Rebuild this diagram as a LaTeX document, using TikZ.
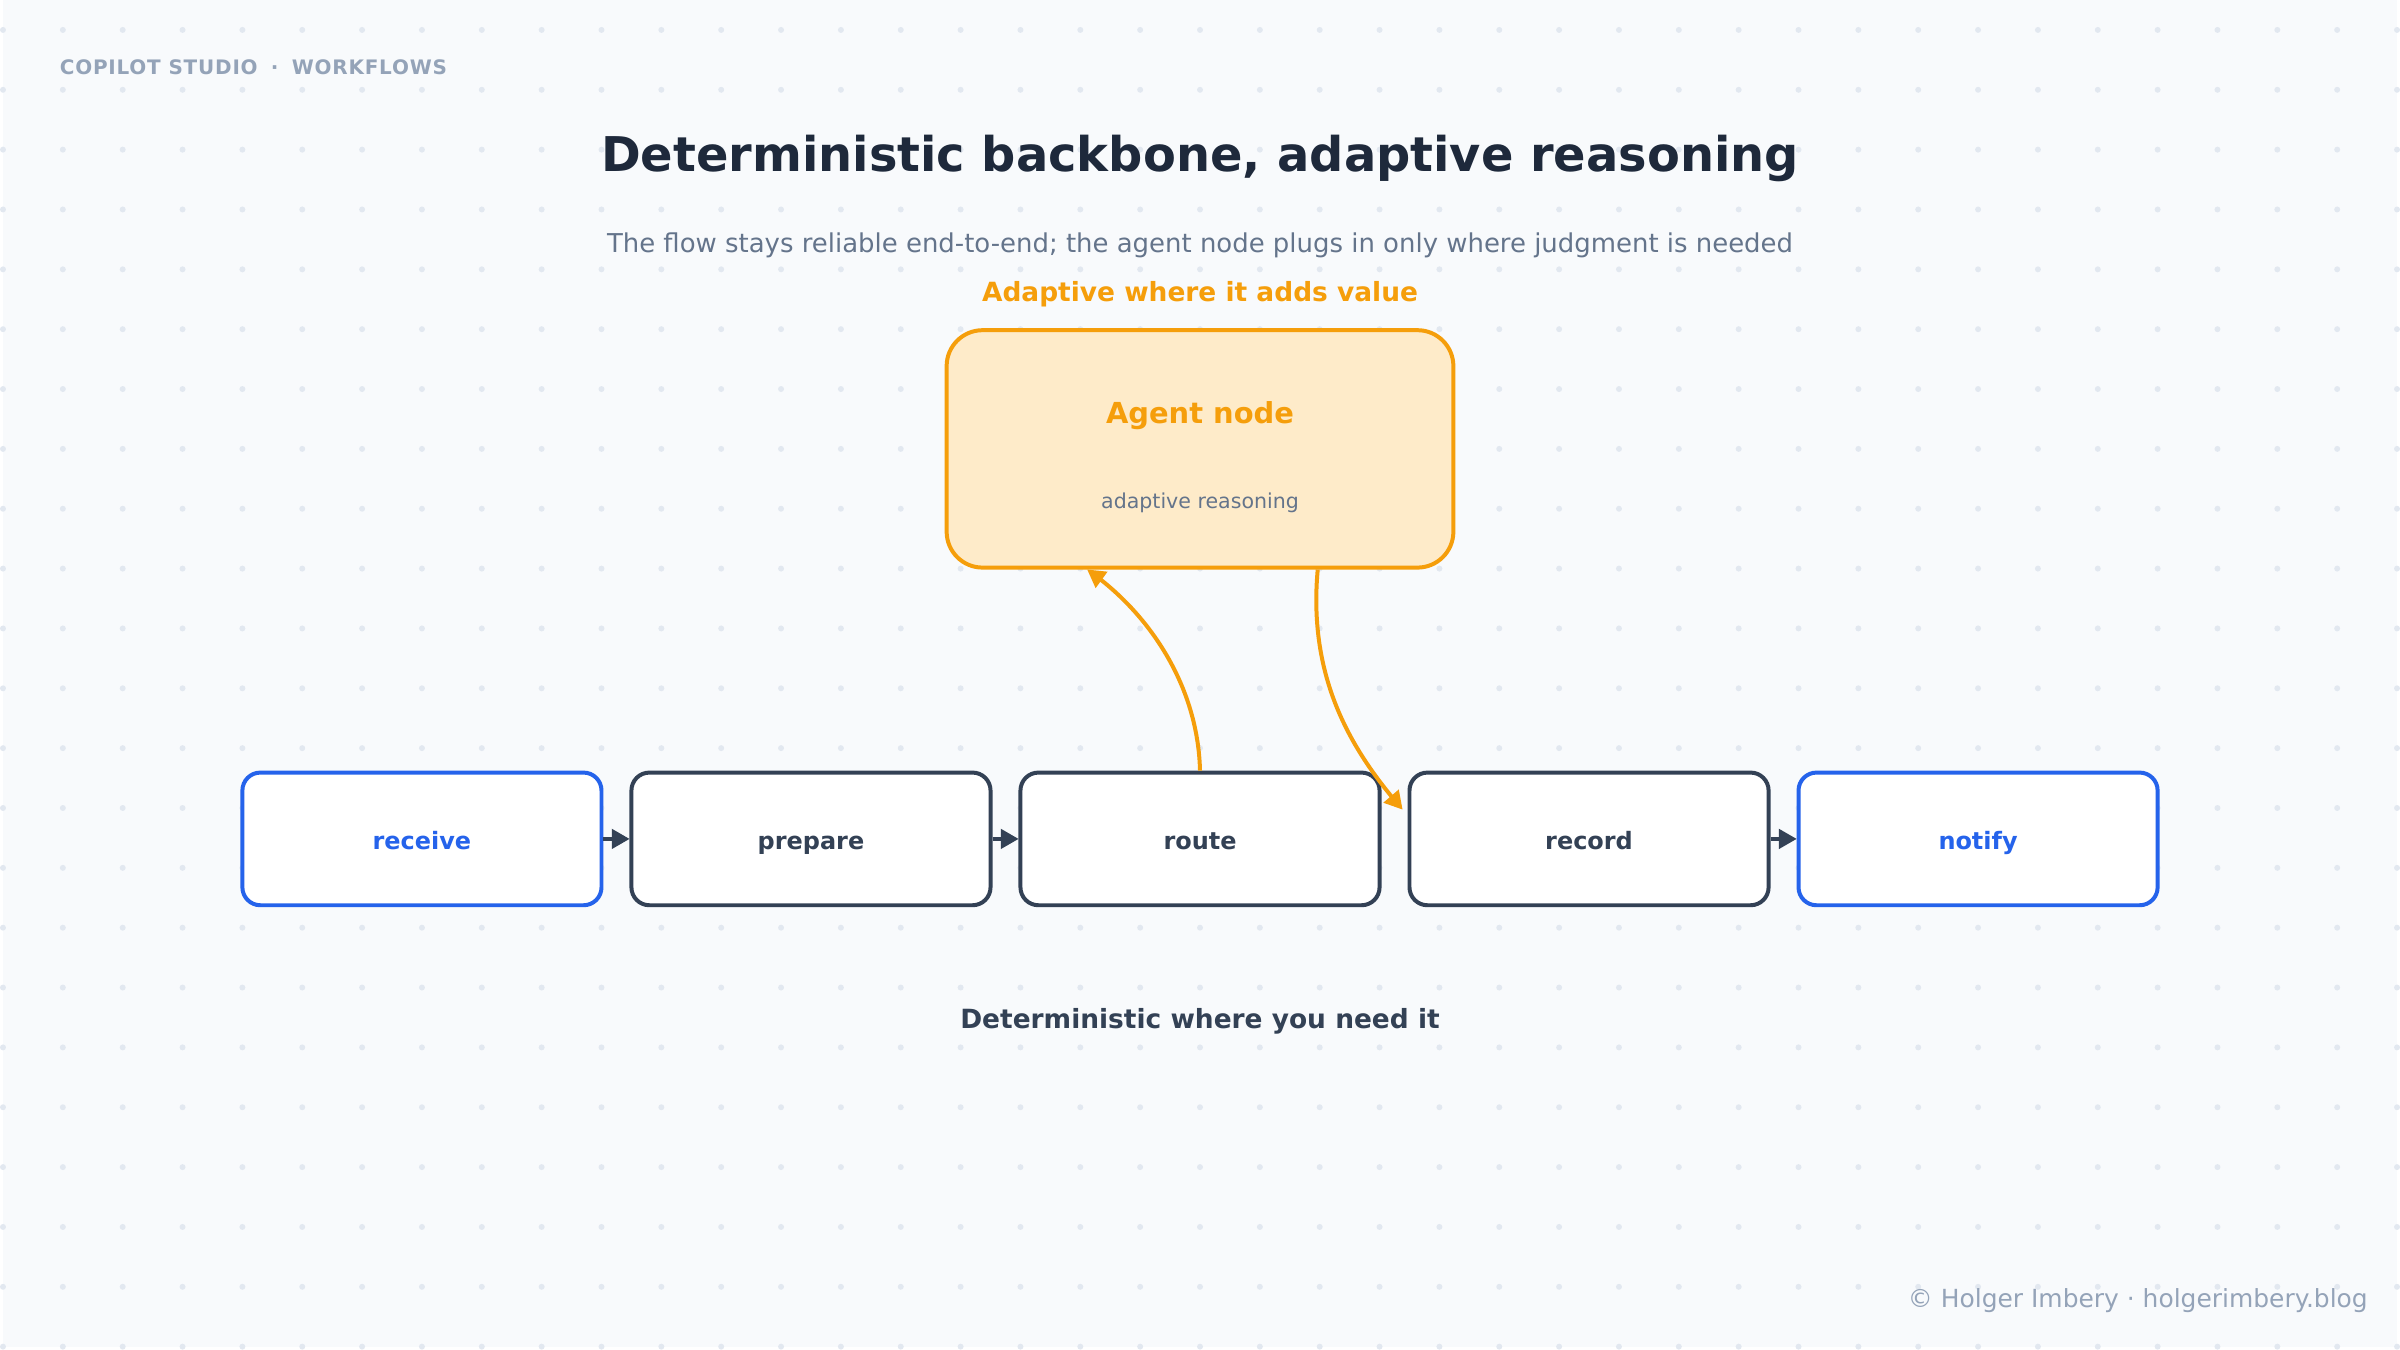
\documentclass[tikz,border=0pt]{standalone}
\usepackage{fontspec}
\setmainfont{DejaVu Sans}
\usepackage{xcolor}
\definecolor{bgslate}{HTML}{F8FAFC}
\definecolor{dotslate}{HTML}{E2E8F0}
\definecolor{mutedslate}{HTML}{94A3B8}
\definecolor{greyslate}{HTML}{64748B}
\definecolor{darkslate}{HTML}{334155}
\definecolor{inkslate}{HTML}{1E293B}
\definecolor{flowblue}{HTML}{2563EB}
\definecolor{amber}{HTML}{F59E0B}
\definecolor{amberfill}{HTML}{FEEBC9}
\usepackage{tikz}
\usetikzlibrary{arrows,positioning}

\begin{document}
\begin{tikzpicture}[x=1pt,y=-1pt,>=triangle 60,node distance=390pt,line width=4pt]
            \tikzstyle{stepbox}=[draw=darkslate,fill=white,rounded corners=18pt,minimum width=360pt,minimum height=133pt,text height=21pt,text depth=0pt,text=darkslate,font=\fontsize{24}{28}\selectfont\bfseries]
            \tikzstyle{endbox}=[stepbox,draw=flowblue,text=flowblue]
            \tikzstyle{flow}=[->,draw=darkslate]
            \tikzstyle{adapt}=[->,draw=amber]

            \fill[bgslate] (0,0) rectangle (2400,1350);
            \foreach \x in {0,60,...,2400}
                \foreach \y in {30,90,...,1350}
                    \fill[dotslate] (\x,\y) circle (3pt);

            \node[anchor=west,inner sep=0pt,text=mutedslate,font=\fontsize{20}{24}\selectfont\bfseries\addfontfeatures{LetterSpace=4}] (kicker) at (55,67) {COPILOT STUDIO \;·\; WORKFLOWS};
            \node[text=inkslate,font=\fontsize{48}{57}\selectfont\bfseries] (title) at (1200,159) {Deterministic backbone, adaptive reasoning};
            \node[text=greyslate,font=\fontsize{26}{31}\selectfont] (subtitle) at (1200,246) {The flow stays reliable end-to-end; the agent node plugs in only where judgment is needed};
            \node[text=amber,font=\fontsize{26.5}{31}\selectfont\bfseries] (adaptlabel) at (1200,295) {Adaptive where it adds value};

            \node[draw=amber,fill=amberfill,rounded corners=36pt,minimum width=508pt,minimum height=238pt] (agent) at (1200,450) {};
            \node[text=amber,font=\fontsize{29}{34}\selectfont\bfseries] (agenttitle) at ([yshift=33pt]agent.center) {Agent node};
            \node[text=greyslate,font=\fontsize{20.6}{24}\selectfont] (agentsub) at ([yshift=-54pt]agent.center) {adaptive reasoning};

            \node[endbox] (receive) at (420,841) {receive};
            \node[stepbox] (prepare) [right of=receive] {prepare};
            \node[stepbox] (route) [right of=prepare] {route};
            \node[stepbox] (record) [right of=route] {record};
            \node[endbox] (notify) [right of=record] {notify};

            \path   (receive) edge [flow] (prepare)
                    (prepare) edge [flow] (route)
                    (record) edge [flow] (notify);

            \draw[adapt] (route.north) .. controls (1198,690) and (1152,618) .. ([xshift=-113pt]agent.south);
            \draw[adapt] ([xshift=118pt]agent.south) .. controls (1308,680) and (1352,752) .. ([xshift=-5pt,yshift=-39pt]record.north west);

            \node[text=darkslate,font=\fontsize{26.5}{31}\selectfont\bfseries] (detlabel) at (1200,1024) {Deterministic where you need it};
            \node[anchor=east,text=mutedslate,font=\fontsize{25}{30}\selectfont] (footer) at (2376,1304) {© Holger Imbery · holgerimbery.blog};
        \end{tikzpicture}
\end{document}
